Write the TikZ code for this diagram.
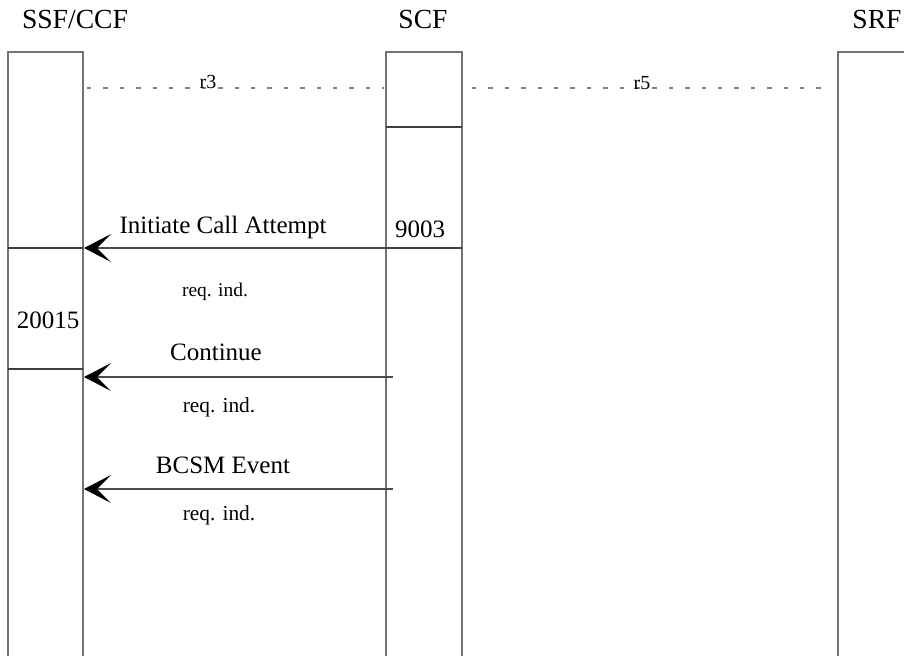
\documentclass[tikz,border=0pt]{standalone}
\usepackage{fontspec}
\setmainfont{Liberation Serif}
\usetikzlibrary{arrows.meta}
\tikzset{
  lane/.style  = {draw=black!55, line width=0.65pt},
  sep/.style   = {draw=black!75, line width=0.6pt},
  ref/.style   = {draw=black!50, line width=0.6pt, dash pattern=on 2.2pt off 6pt},
  msg/.style   = {draw=black!70, line width=0.55pt, -{Stealth[length=13.5pt, width=14pt, inset=7pt, black]}},
  hd/.style    = {anchor=base, font=\fontsize{13.8}{16}\selectfont},
  lbl/.style   = {anchor=base, font=\fontsize{12.5}{15}\selectfont},
  rl/.style    = {anchor=base, font=\fontsize{10}{12}\selectfont},
  ri/.style    = {anchor=base, font=\fontsize{10.7}{13}\selectfont}
}

\begin{document}
\begin{tikzpicture}[x=0.5pt, y=-0.5pt]

  \clip (0,0) rectangle (904,655);

  % lifelines
  \node[hd] (hssf) at (75,28)  {SSF/CCF};
  \node[hd] (hscf) at (423,28) {SCF};
  \node[hd] (hsrf) at (877,28) {SRF};
  \draw[lane] (8,700) |- (83,52) -- (83,700);
  \draw[lane] (386,700) |- (462,52) -- (462,700);
  \draw[lane] (838,700) |- (960,52);
  \draw[sep] (8,248) -- (83,248);  \draw[sep] (8,369) -- (83,369);
  \draw[sep] (386,127) -- (462,127); \draw[sep] (386,248) -- (462,248);

  % relations
  \coordinate (ra) at (87,88);  \coordinate (rb) at (384,88);
  \coordinate (rc) at (472,88); \coordinate (rd) at (829,88);
  \draw[ref] (ra) -- (rb); \node[rl] (lr3) at (208,88) {r3};
  \draw[ref] (rc) -- (rd); \node[rl] (lr5) at (642,89) {r5};

  % operations
  \coordinate (ica1) at (386,248); \coordinate (ica2) at (84,248);
  \coordinate (con1) at (393,377); \coordinate (con2) at (84,377);
  \coordinate (bev1) at (393,489); \coordinate (bev2) at (84,489);
  \draw[msg] (ica1) -- (ica2); \node[lbl] (tica) at (223,233) {Initiate Call Attempt};
  \draw[msg] (con1) -- (con2); \node[lbl] (tcon) at (216,360) {Continue};
  \draw[msg] (bev1) -- (bev2); \node[lbl] (tbev) at (223,473) {BCSM Event};
  \node[ri, font=\fontsize{9.7}{12}\selectfont] (rq1) at (215,296) {req. ind.};
  \node[ri] (rq2) at (219,412) {req. ind.};
  \node[ri] (rq3) at (219,520) {req. ind.};
  \node[lbl] (n9003)  at (420,237) {9003};
  \node[lbl] (n20015) at (48,328)  {20015};

\end{tikzpicture}
\end{document}
